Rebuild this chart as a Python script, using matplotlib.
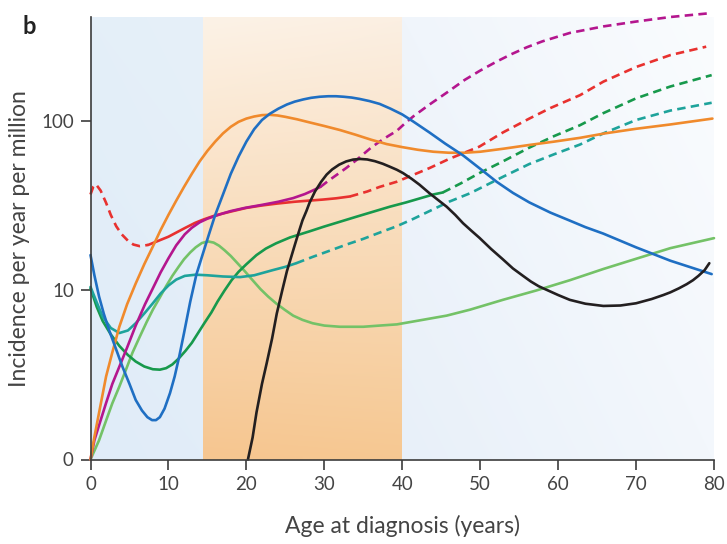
import numpy as np
import matplotlib
matplotlib.use("Agg")
import matplotlib.pyplot as plt
from matplotlib.colors import to_rgb
from matplotlib.ticker import FixedLocator, FixedFormatter

plt.rcParams["font.family"] = ["Lato", "DejaVu Sans"]

# incidence per year per million, by age at diagnosis (years)
blue_x = [0, 0.5, 1.1, 1.7, 2.4, 3.2, 4.1, 5.0, 5.8, 6.6, 7.3, 7.9, 8.4, 8.9, 9.5, 10.2, 10.8,
          11.4, 12.0, 12.8, 13.6, 14.4, 15.2, 16.0, 17.0, 18.0, 19.0, 20.0, 21.0, 22.0, 23.0,
          24.1, 25.2, 26.2, 27.3, 28.3, 29.4, 30.5, 31.5, 32.5, 33.5, 34.5, 35.8, 37.1, 38.5,
          40.0, 41.4, 43.5, 45.5, 47.8, 50.0, 52.1, 54.2, 56.3, 59.0, 61.5, 63.5, 65.8, 70.0,
          74.4, 79.7]
blue_y = [16.2, 12.3, 9.2, 7.3, 5.8, 4.6, 3.54, 2.8, 2.25, 1.95, 1.78, 1.71, 1.71, 1.78, 2.0, 2.47,
          3.1, 4.1, 5.6, 8.6, 12.5, 16.4, 21.5, 28, 37, 49, 62, 76, 90, 102, 111,
          119, 126, 131, 135, 138, 140, 141, 141, 140, 138.5, 136, 132, 127, 119,
          110, 100, 86, 74, 63, 52.5, 44, 37.8, 33.2, 28.9, 25.9, 23.7, 21.7, 18.0,
          15.0, 12.5]

orange_x = [0, 0.5, 1.2, 2.0, 2.8, 3.7, 4.7, 5.8, 6.9, 8.0, 9.0, 10.0, 11.0, 12.0, 13.0, 14.0,
            15.0, 16.0, 17.0, 18.0, 19.0, 20.0, 21.0, 22.0, 23.0, 24.0, 25.0, 26.5, 28.0, 30.0,
            32.0, 34.0, 36.0, 38.0, 40.0, 42.0, 44.0, 46.0, 48.0, 50.0, 53.0, 56.3, 59.5, 62.8,
            66.0, 70.0, 74.4, 79.8]
orange_y = [0, 1.36, 2.0, 3.1, 4.3, 6.1, 8.3, 11.0, 14.3, 18.2, 22.8, 28, 34, 41, 49, 58,
            67, 76, 85, 93, 99.5, 104, 107, 109, 109.5, 108.5, 106.5, 103, 99, 94,
            89, 83.5, 78, 73.5, 70.5, 68, 66.2, 65.3, 65.3, 66.2, 69, 72.6, 76, 80,
            85, 90.5, 96, 104]

red_early_x = [0, 0.35, 0.7, 1.3, 2.0, 2.6, 3.3, 4.0, 4.8, 5.5, 6.3, 7.4]
red_early_y = [37, 41, 42.5, 39, 33, 28, 24, 21.5, 19.7, 18.7, 18.3, 18.6]
red_x = [7.4, 8.5, 10.0, 11.0, 12.1, 13.4, 14.3, 15.2, 16.0, 18.0, 20.0, 21.9, 24.0, 26.2, 28.0,
         29.8, 31.5, 33.3]
red_y = [18.6, 19.5, 20.8, 22, 23.4, 25.1, 26.1, 27, 27.8, 29.3, 30.8, 31.8, 32.7, 33.5, 34,
         34.5, 35.1, 36]
red_late_x = [33.3, 35.5, 37.1, 39.3, 41.5, 43.5, 46.0, 49.9, 52.9, 56.3, 59.0, 62.8, 65.8,
              70.0, 74.4, 79.0]
red_late_y = [36, 38.5, 41, 44, 48.5, 53, 60, 71, 86, 104, 120, 143, 172,
              210, 247, 277]

magenta_x = [0, 0.5, 1.2, 2.0, 2.8, 3.7, 4.7, 5.8, 7.0, 8.0, 9.0, 10.0, 11.0, 12.1, 13.0, 14.0,
             15.0, 16.0, 17.0, 18.0, 19.8, 22.0, 24.1, 26.0, 27.5, 28.5, 29.5]
magenta_y = [0, 1.3, 1.65, 2.16, 2.8, 3.54, 4.6, 6.2, 8.3, 10.3, 12.8, 15.5, 18.5, 21.5, 23.5,
             25.3, 26.6, 27.6, 28.6, 29.5, 30.8, 32.1, 33.5, 35.2, 37.2, 39, 41]
magenta_late_x = [29.5, 30.5, 31.5, 32.8, 34.1, 35.0, 36.0, 37.1, 38.2, 39.3, 40.3, 41.4, 43.5,
                  45.7, 48.0, 50.0, 52.1, 54.0, 56.0, 58.0, 61.5, 65.8, 70.0, 74.4, 79.7]
magenta_late_y = [41, 44.5, 48, 53, 59, 64, 70, 76, 82, 88, 97, 107, 126,
                  148, 176, 200, 226, 250, 275, 298, 334, 365, 390, 415, 438]

green_x = [0, 0.8, 1.56, 2.6, 3.7, 4.8, 5.8, 6.9, 8.0, 8.9, 9.7, 10.5, 11.3, 12.2, 13.0, 13.8,
           14.6, 15.5, 16.3, 17.2, 18.1, 19.0, 20.0, 21.3, 22.5, 23.8, 25.6, 28.0, 30.0, 32.0,
           34.1, 36.0, 38.4, 40.5, 42.2, 44.0, 45.2]
green_y = [10.3, 8.0, 6.6, 5.5, 4.7, 4.15, 3.8, 3.55, 3.42, 3.4, 3.47, 3.65, 3.95, 4.4, 4.9, 5.6,
           6.4, 7.4, 8.6, 10.0, 11.5, 12.9, 14.3, 16.2, 17.7, 19.0, 20.6, 22.3, 23.9, 25.5,
           27.3, 29, 31.3, 33.2, 35, 37, 38]
green_late_x = [45.2, 47.5, 49.9, 52.9, 56.3, 59.5, 62.8, 65.8, 70.0, 74.4, 79.7]
green_late_y = [38, 43, 49.5, 58, 70, 82, 95, 112, 137, 161, 188]

teal_x = [0, 0.8, 1.56, 2.6, 3.7, 4.8, 5.8, 7.0, 8.0, 9.0, 10.0, 11.0, 12.1, 13.5, 15.0, 17.0,
          19.2, 21.0, 23.4, 25.0, 26.4]
teal_y = [10.5, 8.5, 7.0, 6.0, 5.6, 5.8, 6.4, 7.4, 8.4, 9.6, 10.7, 11.6, 12.2, 12.4, 12.3, 12.1,
          12.0, 12.3, 13.2, 13.8, 14.5]
teal_late_x = [26.4, 28.5, 30.7, 33.0, 35.0, 37.1, 39.3, 41.4, 43.5, 46.0, 48.7, 52.9, 56.3,
               59.5, 62.8, 65.8, 70.0, 74.4, 79.7]
teal_late_y = [14.5, 15.8, 17.2, 18.8, 20.2, 22, 24, 26.5, 29.5, 33.5, 37.6, 47, 56,
               64, 73, 85, 102, 116, 129]

lime_x = [0, 1.1, 2.0, 2.8, 3.7, 4.55, 5.4, 6.3, 7.2, 8.0, 8.9, 9.7, 10.5, 11.3, 12.0, 12.8,
          13.5, 14.3, 15.1, 15.8, 16.5, 17.2, 18.0, 18.8, 19.8, 20.8, 21.8, 22.8, 23.8, 24.9,
          26.0, 27.2, 28.5, 30.0, 32.0, 35.0, 37.1, 39.3, 42.2, 45.7, 48.7, 52.9, 57.2, 61.5,
          65.8, 70.0, 74.4, 80.0]
lime_y = [0, 1.3, 1.7, 2.15, 2.7, 3.4, 4.3, 5.3, 6.5, 7.7, 9.1, 10.6, 12.2, 13.8, 15.3, 16.8,
          18, 19.1, 19.5, 19.2, 18.4, 17.3, 16.0, 14.6, 13.0, 11.5, 10.2, 9.2, 8.4, 7.7,
          7.1, 6.7, 6.4, 6.2, 6.1, 6.1, 6.2, 6.3, 6.65, 7.1, 7.7, 8.8, 10, 11.5,
          13.4, 15.4, 17.8, 20.4]

black_x = [20.2, 20.8, 21.3, 22.0, 22.6, 23.3, 23.9, 24.6, 25.2, 25.7, 26.2, 26.7, 27.2, 27.7,
           28.1, 28.8, 29.6, 30.3, 31.0, 31.9, 32.8, 33.7, 34.6, 35.5, 36.5, 37.5, 38.4, 39.3,
           40.1, 41.2, 42.2, 43.5, 44.6, 45.7, 46.8, 47.8, 48.9, 49.9, 51.4, 52.9, 54.2, 55.5,
           56.5, 57.5, 58.5, 60.0, 61.5, 63.5, 65.8, 68.0, 70.0, 72.0, 73.5, 74.4, 75.5, 76.5,
           77.3, 78.0, 78.8, 79.4]
black_y = [0, 1.35, 1.9, 2.8, 3.7, 5.2, 7.3, 10, 13, 15.5, 18.5, 22, 26, 29.5,
           33, 38.5, 44, 48.5, 52, 55.5, 58, 59.5, 60, 59.6, 58.2, 56.2, 54, 51.8,
           49.5, 45.8, 42.3, 37.6, 34.3, 31.3, 28, 25, 22.5, 20.5, 17.6, 15.3, 13.5, 12.2,
           11.3, 10.6, 10.1, 9.4, 8.8, 8.35, 8.1, 8.15, 8.4, 8.9, 9.4, 9.75, 10.3, 10.9,
           11.5, 12.2, 13.2, 14.5]

x_ticks = [0, 10, 20, 30, 40, 50, 60, 70, 80]
y_ticks = [0, 10, 100]
y_ticklabels = ["0", "10", "100"]
band_edges = [0, 14.4, 40, 80]


def fwd(y):
    return np.log10(np.maximum(y, 1))


def inv(v):
    return 10 ** v


def gradient(c_a, c_b, c_c, c_d, n=64):
    """Bilinear colour ramp: a=top-left, b=top-right, c=bottom-left, d=bottom-right."""
    t = np.linspace(0, 1, n)
    u, v = np.meshgrid(t, t)
    a, b, c, d = (np.array(to_rgb(k)) for k in (c_a, c_b, c_c, c_d))
    u, v = u[..., None], v[..., None]
    return (1 - v) * ((1 - u) * a + u * b) + v * ((1 - u) * c + u * d)


fig = plt.figure(figsize=(7.27, 5.44), dpi=100)
ax = fig.add_axes([90.5 / 727, 1 - 459.5 / 544, (714 - 90.5) / 727, (459.5 - 17) / 544])
ax.set_yscale("function", functions=(fwd, inv))
ax.set_xlim(0, 80)
ax.set_ylim(0, 415)

# shaded age bands
xmax = band_edges[-1]
bands = [gradient("#e4eff9", "#e6f0f9", "#e0ecf8", "#e2edf8"),
         gradient("#fcf2e6", "#fbefe2", "#f6c690", "#f6c892"),
         gradient("#f0f5fb", "#fafcfe", "#e8f0f9", "#f3f7fc")]
for (x0, x1), img in zip(zip(band_edges[:-1], band_edges[1:]), bands):
    ax.imshow(img, extent=(x0 / xmax, x1 / xmax, 0, 1), transform=ax.transAxes,
              aspect="auto", interpolation="bilinear", zorder=0)

lw = 1.9
dash = (0, (3.2, 2.0))
kw = dict(lw=lw, clip_on=False, zorder=3, solid_capstyle="round", solid_joinstyle="round")
ax.plot(lime_x, lime_y, color="#74c267", **kw)
ax.plot(green_x, green_y, color="#17994c", **kw)
ax.plot(green_late_x, green_late_y, color="#17994c", ls=dash, **kw)
ax.plot(teal_x, teal_y, color="#1ea39b", **kw)
ax.plot(teal_late_x, teal_late_y, color="#1ea39b", ls=dash, **kw)
ax.plot(red_early_x, red_early_y, color="#e8312f", ls=dash, **kw)
ax.plot(red_x, red_y, color="#e8312f", **kw)
ax.plot(red_late_x, red_late_y, color="#e8312f", ls=dash, **kw)
ax.plot(magenta_x, magenta_y, color="#b4168e", **kw)
ax.plot(magenta_late_x, magenta_late_y, color="#b4168e", ls=dash, **kw)
ax.plot(orange_x, orange_y, color="#f08a2c", **kw)
ax.plot(blue_x, blue_y, color="#1f6fc3", **kw)
ax.plot(black_x, black_y, color="#231f20", **kw)

for side in ("top", "right"):
    ax.spines[side].set_visible(False)
for side in ("left", "bottom"):
    ax.spines[side].set_color("#3c3c3c")
    ax.spines[side].set_linewidth(1.2)
    ax.spines[side].set_zorder(4)

ax.xaxis.set_major_locator(FixedLocator(x_ticks))
ax.yaxis.set_major_locator(FixedLocator(y_ticks))
ax.yaxis.set_major_formatter(FixedFormatter(y_ticklabels))
ax.yaxis.set_minor_locator(FixedLocator([]))
ax.tick_params(direction="out", length=7, width=1.2, color="#3c3c3c",
               labelsize=13.5, labelcolor="#444444", pad=5)

ax.set_xlabel("Age at diagnosis (years)", fontsize=16.5, color="#444444", labelpad=16)
ax.set_ylabel("Incidence per year per million", fontsize=16.5, color="#444444", labelpad=8)
fig.text(22 / 727, 1 - 27 / 544, "b", fontsize=17, fontweight="bold", color="#222222",
         va="center", ha="left")

fig.savefig("out.png", dpi=100)
